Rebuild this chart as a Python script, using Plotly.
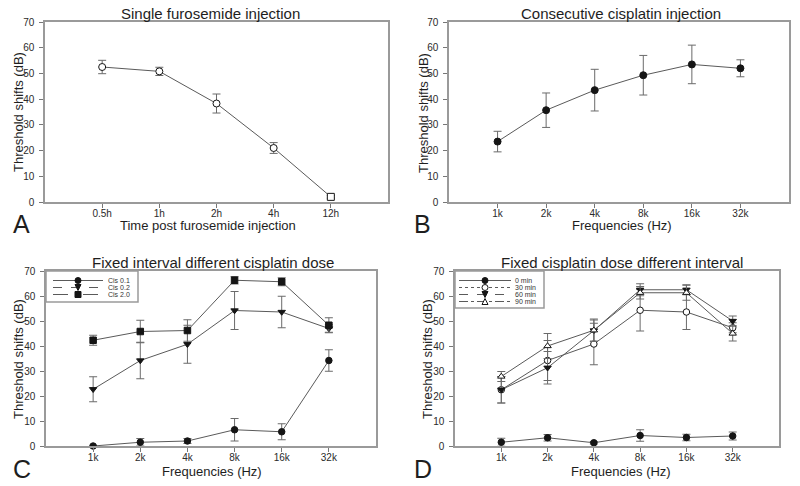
import plotly.graph_objects as go

# ---------------- data ----------------
times = ["0.5h", "1h", "2h", "4h", "12h"]
furo_mean = [52.5, 50.8, 38.3, 21.0, 2.0]
furo_err = [2.6, 1.6, 3.7, 2.1, 0.5]

freqs = ["1k", "2k", "4k", "8k", "16k", "32k"]
consec_mean = [23.5, 35.7, 43.5, 49.3, 53.5, 52.0]
consec_err = [4.0, 6.7, 8.1, 7.7, 7.5, 3.3]

cis01_mean = [0.0, 1.5, 2.0, 6.5, 5.7, 34.2]
cis01_err = [0.3, 1.5, 1.0, 4.5, 3.2, 4.3]
cis02_mean = [22.7, 34.2, 40.7, 54.2, 53.6, 47.0]
cis02_err = [5.0, 7.3, 7.6, 7.6, 6.3, 1.5]
cis20_mean = [42.3, 45.8, 46.2, 66.3, 65.7, 48.3]
cis20_err = [2.0, 4.5, 4.3, 1.5, 1.6, 3.0]

int0_mean = [1.5, 3.3, 1.3, 4.2, 3.4, 4.0]
int0_err = [1.6, 1.3, 0.5, 2.3, 1.3, 1.6]
int30_mean = [22.5, 34.2, 40.8, 54.3, 53.6, 47.3]
int30_err = [5.3, 8.0, 8.3, 8.3, 7.0, 2.0]
int60_mean = [22.5, 31.3, 46.2, 62.5, 62.5, 50.0]
int60_err = [5.3, 6.5, 4.2, 2.4, 2.0, 2.0]
int90_mean = [27.8, 40.0, 46.3, 61.3, 61.3, 45.0]
int90_err = [2.0, 5.0, 4.5, 2.5, 3.0, 3.0]

titles = ["Single furosemide injection", "Consecutive cisplatin injection",
          "Fixed interval different cisplatin dose", "Fixed cisplatin dose different interval"]
xtitles = ["Time post furosemide injection", "Frequencies (Hz)", "Frequencies (Hz)", "Frequencies (Hz)"]
letters = ["A", "B", "C", "D"]
ytitle = "Threshold shifts (dB)"
legend_c = ["Cis 0.1", "Cis 0.2", "Cis 2.0"]
legend_d = ["0 min", "30 min", "60 min", "90 min"]

# ---------------- style ----------------
W, H = 800, 486
FONT = "Liberation Sans, Arial, sans-serif"
LINE = "#5a5a5a"
ERR = "#6a6a6a"
MK = "#151515"
FRAME = "#9a9a9a"
TXT = "#1e1e1e"
TICKTXT = "#2a2a2a"

# pixel boxes of plot areas: (left, right, top, bottom)
boxes = [(45, 388, 22, 202), (449, 789, 22, 202), (46, 376, 271, 446), (455, 779, 271, 446)]
title_pos = [(210, 13), (621, 14), (213, 262), (622, 262)]
xtitle_pos = [(208, 225), (622, 225), (212, 471), (621, 471)]
ytitle_pos = [(18, 112), (423, 113), (18, 359), (427, 359)]
letter_pos = [(21, 224), (422, 224), (22, 469), (423, 469)]

def px(x):
    return x / W

def py(y):
    return 1 - y / H

fig = go.Figure()

def add_series(i, x, y, e, symbol, fill, size=7):
    xa = "x" if i == 0 else f"x{i+1}"
    ya = "y" if i == 0 else f"y{i+1}"
    fig.add_trace(go.Scatter(
        x=x, y=y, xaxis=xa, yaxis=ya, mode="lines+markers",
        line=dict(color=LINE, width=1),
        marker=dict(symbol=symbol, size=size, color=fill, line=dict(color=MK, width=1)),
        error_y=dict(type="data", array=e, visible=True, thickness=1, width=4, color=ERR),
        showlegend=False, cliponaxis=False))

# panel A: open circles, last point open square
furo_symbols = ["circle", "circle", "circle", "circle", "square"]
fig.add_trace(go.Scatter(
    x=times, y=furo_mean, mode="lines+markers",
    line=dict(color=LINE, width=1),
    marker=dict(symbol=furo_symbols, size=7, color="white", line=dict(color=MK, width=1)),
    error_y=dict(type="data", array=furo_err, visible=True, thickness=1, width=4, color=ERR),
    showlegend=False, cliponaxis=False))
add_series(1, freqs, consec_mean, consec_err, "circle", MK)
add_series(2, freqs, cis01_mean, cis01_err, "circle", MK, 6.5)
add_series(2, freqs, cis02_mean, cis02_err, "triangle-down", MK, 6.5)
add_series(2, freqs, cis20_mean, cis20_err, "square", MK, 6.5)
add_series(3, freqs, int0_mean, int0_err, "circle", MK, 6.5)
add_series(3, freqs, int30_mean, int30_err, "circle", "white", 6.5)
add_series(3, freqs, int60_mean, int60_err, "triangle-down", MK, 6.5)
add_series(3, freqs, int90_mean, int90_err, "triangle-up", "white", 6.5)

layout = dict(width=W, height=H, margin=dict(l=0, r=0, t=0, b=0, autoexpand=False),
              paper_bgcolor="white", plot_bgcolor="white",
              font=dict(family=FONT, color=TXT), annotations=[], shapes=[],
              showlegend=False)

for i, b in enumerate(boxes):
    l, r, t, bt = b
    sfx = "" if i == 0 else str(i + 1)
    ncat = len(times) if i == 0 else len(freqs)
    layout["xaxis" + sfx] = dict(
        domain=[px(l), px(r)], anchor="y" + sfx, type="category", range=[-1, ncat],
        showline=True, linecolor=FRAME, linewidth=1.5, mirror=True, automargin=False,
        ticks="outside", ticklen=4, tickcolor="#777777", showgrid=False, zeroline=False,
        ticklabelstandoff=-3, tickfont=dict(size=10, color=TICKTXT))
    layout["yaxis" + sfx] = dict(
        domain=[py(bt), py(t)], anchor="x" + sfx, range=[0, 70], dtick=10,
        showline=True, linecolor=FRAME, linewidth=1.5, mirror=True, automargin=False,
        ticks="outside", ticklen=4, tickcolor="#777777", showgrid=False, zeroline=False,
        ticklabelstandoff=3, tickfont=dict(size=10, color=TICKTXT))
    ann = layout["annotations"]
    ann.append(dict(text=titles[i], x=px(title_pos[i][0]), y=py(title_pos[i][1]),
                    xref="paper", yref="paper", xanchor="center", yanchor="middle",
                    showarrow=False, font=dict(size=15, color=TXT)))
    ann.append(dict(text=xtitles[i], x=px(xtitle_pos[i][0]), y=py(xtitle_pos[i][1]),
                    xref="paper", yref="paper", xanchor="center", yanchor="middle",
                    showarrow=False, font=dict(size=13, color=TXT)))
    ann.append(dict(text=ytitle, x=px(ytitle_pos[i][0]), y=py(ytitle_pos[i][1]),
                    xref="paper", yref="paper", xanchor="center", yanchor="middle",
                    textangle=-90, showarrow=False, font=dict(size=13, color=TXT)))
    ann.append(dict(text=letters[i], x=px(letter_pos[i][0]), y=py(letter_pos[i][1]),
                    xref="paper", yref="paper", xanchor="center", yanchor="middle",
                    showarrow=False, font=dict(size=25, color=TXT)))

# ---------------- compact legends (drawn as shapes + text) ----------------
def marker_shape(cx, cy, symbol, fill, r=3):
    base = dict(xref="paper", yref="paper", fillcolor=fill, line=dict(color=MK, width=1))
    if symbol == "circle":
        return dict(type="circle", x0=px(cx - r), x1=px(cx + r), y0=py(cy + r), y1=py(cy - r), **base)
    if symbol == "square":
        return dict(type="rect", x0=px(cx - r), x1=px(cx + r), y0=py(cy + r), y1=py(cy - r), **base)
    if symbol == "triangle-down":
        path = f"M {px(cx-r)},{py(cy-r)} L {px(cx+r)},{py(cy-r)} L {px(cx)},{py(cy+r)} Z"
        return dict(type="path", path=path, **base)
    if symbol == "triangle-up":
        path = f"M {px(cx-r)},{py(cy+r)} L {px(cx+r)},{py(cy+r)} L {px(cx)},{py(cy-r)} Z"
        return dict(type="path", path=path, **base)

def draw_legend(box, rows, names, dashes, symbols, fills, line_x, text_x):
    l, r, t, bt = box
    layout["shapes"].append(dict(type="rect", xref="paper", yref="paper",
                                 x0=px(l), x1=px(r), y0=py(bt), y1=py(t),
                                 fillcolor="white", line=dict(color=FRAME, width=1.5)))
    for yy, nm, ds, sy, fl in zip(rows, names, dashes, symbols, fills):
        layout["shapes"].append(dict(type="line", xref="paper", yref="paper",
                                     x0=px(line_x[0]), x1=px(line_x[1]), y0=py(yy), y1=py(yy),
                                     line=dict(color=LINE, width=1, dash=ds)))
        layout["shapes"].append(marker_shape((line_x[0] + line_x[1]) / 2, yy, sy, fl))
        layout["annotations"].append(dict(text=nm, x=px(text_x), y=py(yy), xref="paper", yref="paper",
                                          xanchor="left", yanchor="middle", showarrow=False,
                                          borderpad=0, font=dict(size=7, color="#333333")))

draw_legend((46, 138, 271, 302), [280.5, 287.5, 294.5], legend_c,
            ["solid", "dash", "longdash"], ["circle", "triangle-down", "square"],
            [MK, MK, MK], (53, 103), 107)
draw_legend((455, 544, 271, 308), [280.5, 287.5, 294.5, 301.5], legend_d,
            ["solid", "dot", "dash", "dashdot"],
            ["circle", "circle", "triangle-down", "triangle-up"],
            [MK, "white", MK, "white"], (459, 511), 514)

fig.update_layout(**layout)
fig.write_html("out.html", config={"displayModeBar": False},
               post_script="document.body.style.margin='0px';document.body.style.padding='0px';")
